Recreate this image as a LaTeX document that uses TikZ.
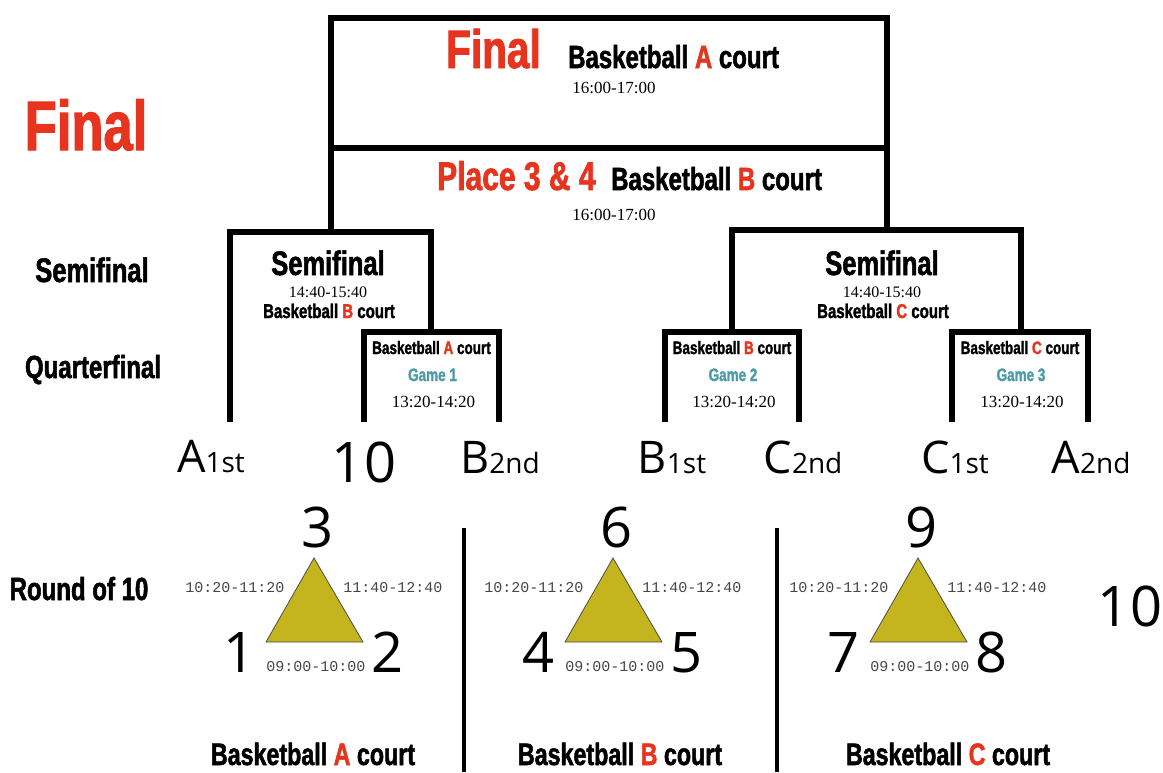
\documentclass[tikz,border=0pt]{standalone}
\usepackage{fontspec}
\setmainfont{Liberation Serif}
\newfontfamily\condfont{Liberation Sans Bold}[FakeStretch=0.75,FakeBold=1.6]
\newfontfamily\numfont{Open Sans}
\newfontfamily\clockfont{Liberation Mono}

\definecolor{courtred}{RGB}{230,52,30}
\definecolor{gameteal}{RGB}{75,155,168}
\definecolor{triolive}{RGB}{196,180,30}
\definecolor{clockgray}{RGB}{70,70,70}

\newcommand\court[1]{Basketball {\color{courtred}#1} court}
\newcommand\seed[2]{{\fontsize{45}{45}\selectfont #1}{\fontsize{28}{28}\selectfont #2}}

\tikzset{
  bracket/.style={line width=6pt},
  lbl/.style={anchor=base,inner sep=0pt},
  cond/.style={lbl,font=\condfont\fontsize{#1}{#1}\selectfont},
  times/.style={lbl,font=\fontsize{#1}{#1}\selectfont},
  slot/.style={lbl,text=clockgray,font=\clockfont\fontsize{15}{15}\selectfont},
  big/.style={lbl,font=\numfont\fontsize{56}{56}\selectfont},
  seedlbl/.style={lbl,font=\numfont},
}

\begin{document}
\begin{tikzpicture}[x=1pt,y=-1pt]
        \useasboundingbox (0,0) rectangle (1163,772);
        % Row labels
        \node[cond=70,text=courtred] (rowfinal) at (86,150) {Final};
        \node[cond=34] (rowsemi) at (92,282) {Semifinal};
        \node[cond=32] (rowquarter) at (93,378) {Quarterfinal};
        \node[cond=32] (rowten) at (79,600) {Round of 10};
        % Final and place 3 & 4
        \draw[bracket] (331,232) -- (331,18) -- (887,18) -- (887,232);
        \draw[bracket] (331,148) -- (887,148);
        \node[cond=54,text=courtred,anchor=base west] (final) at (446,68) {Final};
        \node[cond=32,anchor=base west] (finalcourt) at (568,68) {\court{A}};
        \node[times=17] (finaltime) at (614,93) {16:00-17:00};
        \node[cond=40,text=courtred,anchor=base west] (third) at (437,190) {Place 3 \& 4};
        \node[cond=32,anchor=base west] (thirdcourt) at (611,190) {\court{B}};
        \node[times=17] (thirdtime) at (614,220) {16:00-17:00};
        % Semifinals
        \draw[bracket] (230,422) |- (431,232) -- (431,332);
        \draw[bracket] (732,332) |- (1021,230) -- (1021,332);
        \foreach \x/\c [count=\i] in {328/B,882/C} {
            \node[cond=34] (semi\i) at (\x,275) {Semifinal};
            \node[times=16] (semitime\i) at (\x,297) {14:40-15:40};
            \node[cond=20] (semicourt\i) at (\x+1,318) {\court{\c}};
        }
        % Quarterfinals
        \foreach \l/\r/\c [count=\i] in {364/499/A,665/799/B,952/1088/C} {
            \draw[bracket] (\l,422) |- (\r,332) -- (\r,422);
            \node[cond=18] (qcourt\i) at ({(\l+\r)/2},354) {\court{\c}};
            \node[cond=18,text=gameteal] (game\i) at ({(\l+\r)/2+1},381) {Game \i};
            \node[times=17] (qtime\i) at ({(\l+\r)/2+2},407) {13:20-14:20};
        }
        % Qualified teams
        \node[seedlbl] (a1) at (211,472) {\seed{A}{1st}};
        \node[big] (ten) at (364,482) {10};
        \node[seedlbl] (b2) at (500,473) {\seed{B}{2nd}};
        \node[seedlbl] (b1) at (672,473) {\seed{B}{1st}};
        \node[seedlbl] (c2) at (803,473) {\seed{C}{2nd}};
        \node[seedlbl] (c1) at (955,473) {\seed{C}{1st}};
        \node[seedlbl] (a2) at (1091,473) {\seed{A}{2nd}};
        % Round of 10 groups
        \foreach \x/\a/\b/\c in {314/1/2/3,613/4/5/6,918/7/8/9} {
            \filldraw[fill=triolive,draw=black!70,line width=0.8pt] (\x,558) -- (\x+49,642) -- (\x-48,642) -- cycle;
            \node[big] (team\c) at (\x+4,547) {\c};
            \node[big] (team\a) at (\x-74,672) {\a};
            \node[big] (team\b) at (\x+74,672) {\b};
            \node[slot] (slotl\c) at (\x-79,592) {10:20-11:20};
            \node[slot] (slotr\c) at (\x+79,592) {11:40-12:40};
            \node[slot] (slotb\c) at (\x+2,671) {09:00-10:00};
        }
        \node[big] (tenth) at (1130,626) {10};
        % Court separators
        \draw[line width=4pt] (464,528) -- (464,772);
        \draw[line width=4pt] (777,528) -- (777,772);
        \node[cond=31] (courta) at (313,765) {\court{A}};
        \node[cond=31] (courtb) at (620,765) {\court{B}};
        \node[cond=31] (courtc) at (948,765) {\court{C}};
\end{tikzpicture}
\end{document}
